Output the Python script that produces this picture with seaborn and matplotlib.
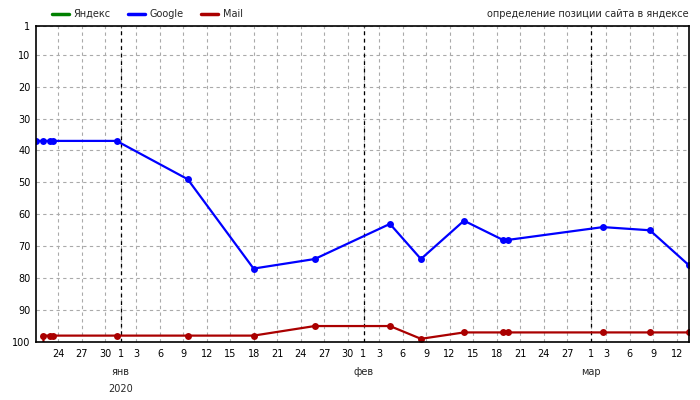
import pandas as pd
import numpy as np
import matplotlib
matplotlib.use("Agg")
import matplotlib.pyplot as plt
import matplotlib.dates as mdates
from matplotlib.lines import Line2D
import seaborn as sns

# positions in the yandex / google / mail search results
google_dates = ["2019-12-21 04:00", "2019-12-22 03:00", "2019-12-23 00:00", "2019-12-23 09:30",
                "2019-12-31 11:00", "2020-01-09 13:00", "2020-01-17 23:00", "2020-01-25 18:30",
                "2020-02-04 09:00", "2020-02-08 08:00", "2020-02-13 20:00", "2020-02-18 19:00",
                "2020-02-19 12:00", "2020-03-02 14:00", "2020-03-08 14:00", "2020-03-13 14:00"]
google_pos = [37, 37, 37, 37, 37, 49, 77, 74, 63, 74, 62, 68, 68, 64, 65, 76]

mail_dates = ["2019-12-22 02:50", "2019-12-22 03:00", "2019-12-23 00:00", "2019-12-23 09:30",
              "2019-12-31 11:00", "2020-01-09 13:00", "2020-01-17 23:00", "2020-01-25 18:30",
              "2020-02-04 09:00", "2020-02-08 08:00", "2020-02-13 20:00", "2020-02-18 19:00",
              "2020-02-19 12:00", "2020-03-02 14:00", "2020-03-08 14:00", "2020-03-13 14:00"]
mail_pos = [110, 98, 98, 98, 98, 98, 98, 95, 95, 99, 97, 97, 97, 97, 97, 97]

month_starts = ["2020-01-01", "2020-02-01", "2020-03-01"]
month_names = ["янв", "фев", "мар"]
y_ticks = [1, 10, 20, 30, 40, 50, 60, 70, 80, 90, 100]
series_names = ["Яндекс", "Google", "Mail"]
series_colors = ["#008000", "#0000ff", "#aa0000"]

google = pd.DataFrame({"date": pd.to_datetime(google_dates), "pos": google_pos})
mail = pd.DataFrame({"date": pd.to_datetime(mail_dates), "pos": mail_pos})

sns.set_style("white")
plt.rcParams["font.family"] = ["DejaVu Sans"]
fs = 7

fig = plt.figure(figsize=(7, 4), dpi=100)
ax = fig.add_axes([0.0514, 0.145, 0.933, 0.79])

#yandex has no points inside top 100, so only google and mail are drawn
sns.lineplot(data=google, x="date", y="pos", color=series_colors[1], lw=1.6, marker="o",
             markersize=5, markeredgewidth=0, ax=ax)
sns.lineplot(data=mail, x="date", y="pos", color=series_colors[2], lw=1.6, marker="o",
             markersize=5, markeredgewidth=0, ax=ax)

ax.set_xlim(google["date"].iloc[0], google["date"].iloc[-1])
ax.set_ylim(100, 1)
ax.set_yticks(y_ticks)

ax.xaxis.set_major_locator(mdates.DayLocator(bymonthday=[1, 3, 6, 9, 12, 15, 18, 21, 24, 27, 30]))
ax.xaxis.set_major_formatter(mdates.DateFormatter("%-d"))

ax.grid(True, color="#aaaaaa", linestyle=(0, (3, 3)), linewidth=0.8)
for m in month_starts:
    ax.axvline(pd.Timestamp(m), color="black", linestyle=(0, (3, 3)), linewidth=0.9, zorder=1.5)

ax.tick_params(axis="both", length=0, labelsize=fs, colors="black")
ax.tick_params(axis="x", pad=5)
ax.tick_params(axis="y", pad=4)
for s in ax.spines.values():
    s.set_color("black")
    s.set_linewidth(1.2)

ax.set_xlabel("")
ax.set_ylabel("")

# month names under the first day of month
for m, name in zip(month_starts, month_names):
    ax.text(pd.Timestamp(m), -0.095, name, transform=ax.get_xaxis_transform(),
            ha="center", va="center", fontsize=fs)
ax.text(pd.Timestamp(month_starts[0]), -0.15, "2020", transform=ax.get_xaxis_transform(),
        ha="center", va="center", fontsize=fs)

#legend with plain line handles
handles = [Line2D([], [], color=c, lw=2.5) for c in series_colors]
fig.legend(handles, series_names, loc="center left", bbox_to_anchor=(0.062, 0.965), ncol=3,
           frameon=False, handlelength=1.7, handletextpad=0.5, columnspacing=1.8, fontsize=fs)
fig.text(0.984, 0.965, "определение позиции сайта в яндексе", ha="right", va="center", fontsize=fs)

plt.savefig("out.png", dpi=100)
plt.close()
